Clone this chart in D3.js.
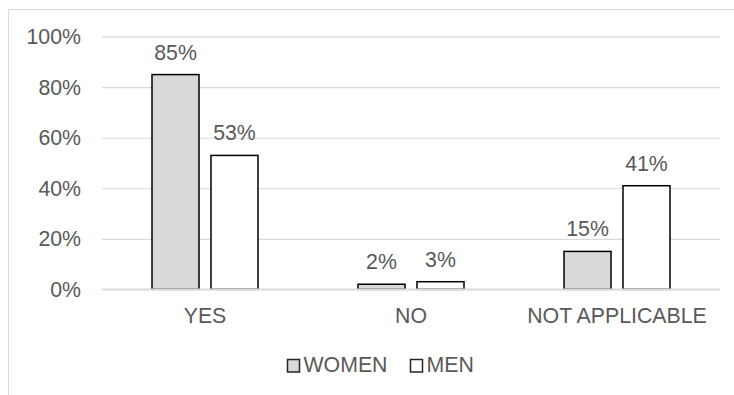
<!DOCTYPE html>
<html>
<head>
<meta charset="utf-8">
<script src="https://cdn.jsdelivr.net/npm/d3@7"></script>
<style>
  html, body { margin: 0; padding: 0; background: #fff; }
  svg { display: block; font-family: "Liberation Sans", Arial, sans-serif; }
</style>
</head>
<body>
<svg id="chart" width="734" height="395"></svg>
<script>
// data
const categories = ["YES", "NO", "NOT APPLICABLE"];
const seriesNames = ["WOMEN", "MEN"];
const women = [0.85, 0.02, 0.15];
const men = [0.53, 0.03, 0.41];
const yTicks = [0, 0.2, 0.4, 0.6, 0.8, 1];

const textColor = "#595959";
const gridColor = "#d9d9d9";
const fills = { WOMEN: "#d9d9d9", MEN: "#ffffff" };
const fontSize = 21.3;

const svg = d3.select("#chart");

// outer chart border, runs off right and bottom
svg.append("rect")
    .attr("x", 8.5).attr("y", 9.5)
    .attr("width", 800).attr("height", 500)
    .attr("fill", "none")
    .attr("stroke", gridColor)
    .attr("stroke-width", 1);

const plotLeft = 102, plotRight = 720, plotTop = 36.7, plotBottom = 289.3;

const y = d3.scaleLinear().domain([0, 1]).range([plotBottom, plotTop]);
const x0 = d3.scaleBand().domain(categories).range([plotLeft, plotRight]);
const x1 = d3.scaleBand().domain(seriesNames).range([0, 106]).paddingInner(0.203);
const groupOffset = (x0.bandwidth() - 106) / 2;

// gridlines + y labels
const yAxis = svg.append("g")
    .attr("transform", `translate(${plotLeft},0)`)
    .call(d3.axisLeft(y).tickValues(yTicks).tickFormat(d3.format(".0%"))
        .tickSize(-(plotRight - plotLeft)).tickPadding(21));
yAxis.select(".domain").remove();
yAxis.selectAll(".tick line").attr("stroke", gridColor).attr("stroke-width", 1.2);
yAxis.selectAll(".tick text")
    .attr("fill", textColor)
    .style("font-size", fontSize + "px")
    .style("font-family", "'Liberation Sans', Arial, sans-serif");

// bars
const rows = categories.map((c, i) => ({ cat: c, vals: [
    { key: "WOMEN", v: women[i] },
    { key: "MEN", v: men[i] }
]}));

const groups = svg.selectAll(".grp").data(rows).enter().append("g")
    .attr("class", "grp")
    .attr("transform", d => `translate(${x0(d.cat) + groupOffset},0)`);

groups.selectAll("rect").data(d => d.vals).enter().append("rect")
    .attr("x", d => x1(d.key))
    .attr("y", d => y(d.v))
    .attr("width", x1.bandwidth())
    .attr("height", d => y(0) - y(d.v))
    .attr("fill", d => fills[d.key])
    .attr("stroke", "#000")
    .attr("stroke-width", 1.5);

groups.selectAll("text").data(d => d.vals).enter().append("text")
    .attr("x", d => x1(d.key) + x1.bandwidth() / 2)
    .attr("y", d => y(d.v) - 15)
    .attr("text-anchor", "middle")
    .attr("fill", textColor)
    .style("font-size", fontSize + "px")
    .text(d => d3.format(".0%")(d.v));

// zero line over bar bottoms
svg.append("line")
    .attr("x1", plotLeft).attr("x2", plotRight)
    .attr("y1", y(0)).attr("y2", y(0))
    .attr("stroke", gridColor)
    .attr("stroke-width", 1.6);

// category axis
const xAxis = svg.append("g")
    .attr("transform", `translate(0,${plotBottom})`)
    .call(d3.axisBottom(x0).tickSize(0).tickPadding(19));
xAxis.select(".domain").remove();
xAxis.selectAll(".tick text")
    .attr("fill", textColor)
    .style("font-size", fontSize + "px")
    .style("font-family", "'Liberation Sans', Arial, sans-serif");

// legend
const legendX = [287, 410];
const legend = svg.selectAll(".leg").data(seriesNames).enter().append("g")
    .attr("class", "leg")
    .attr("transform", (d, i) => `translate(${legendX[i]},359)`);
legend.append("rect")
    .attr("x", 0.5).attr("y", 0.5)
    .attr("width", 12).attr("height", 12.5)
    .attr("fill", d => fills[d])
    .attr("stroke", "#262626")
    .attr("stroke-width", 1.5);
legend.append("text")
    .attr("x", 16.5).attr("y", 13.2)
    .attr("fill", textColor)
    .style("font-size", fontSize + "px")
    .text(d => d);
</script>
</body>
</html>
